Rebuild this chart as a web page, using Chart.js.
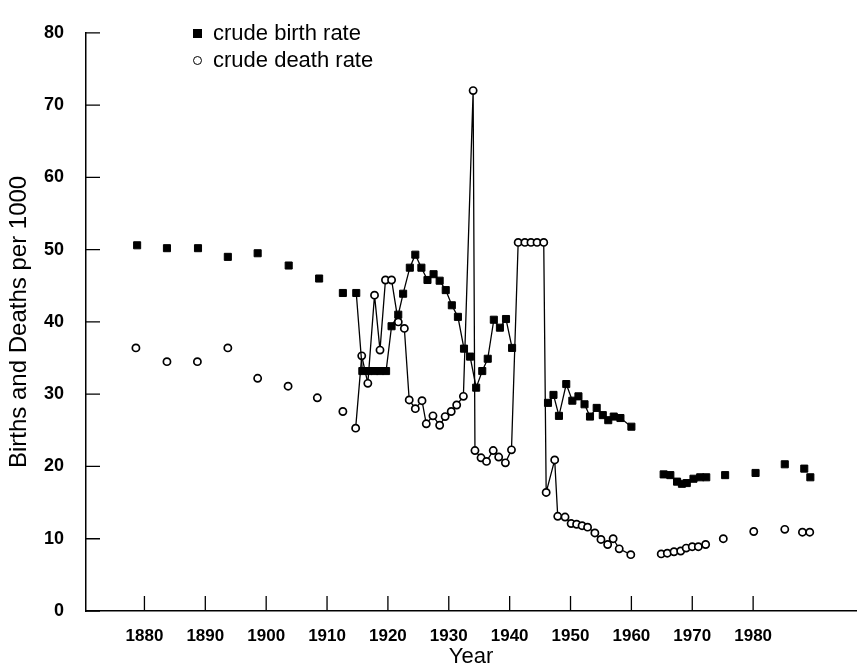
<!DOCTYPE html>
<html lang="en">
<head>
<meta charset="UTF-8">
<title>Crude birth and death rates</title>
<script src="https://cdn.jsdelivr.net/npm/chart.js@4"></script>
<style>
    body {
        margin: 0;
        background: #fff;
        font-family: "Liberation Sans", Arial, sans-serif;
    }
    #wrap {
        position: relative;
        width: 862px;
        height: 670px;
    }
    .key {
        position: absolute;
        left: 193px;
        height: 22px;
        display: flex;
        align-items: center;
        font-size: 22px;
        color: #000;
    }
    .key span.mark {
        display: inline-block;
        box-sizing: border-box;
        width: 9px;
        height: 9px;
        margin-right: 11px;
    }
    .sq { background: #000; }
    .ci { border: 1.7px solid #000; border-radius: 50%; background: #fff; }
</style>
</head>
<body>
<div id="wrap">
    <canvas id="rates"></canvas>
    <div class="key" style="top:22px;"><span class="mark sq"></span>crude birth rate</div>
    <div class="key" style="top:49px;"><span class="mark ci"></span>crude death rate</div>
</div>
<script>
    // axis ticks
    const yearTicks = [1880, 1890, 1900, 1910, 1920, 1930, 1940, 1950, 1960, 1970, 1980];
    const rateTicks = [0, 10, 20, 30, 40, 50, 60, 70, 80];

    // birth rate: early points (not joined)
    const birthEarlyYears = [1878.8, 1883.7, 1888.8, 1893.7, 1898.6, 1903.7, 1908.7, 1912.6];
    const birthEarly = [50.6, 50.2, 50.2, 49.0, 49.5, 47.8, 46.0, 44.0];
    // birth rate: annual, joined (1914-1940)
    const birthAYears = [1914.8, 1915.8, 1916.8, 1917.8, 1918.7, 1919.7, 1920.6, 1921.7, 1922.5, 1923.6,
        1924.5, 1925.5, 1926.5, 1927.5, 1928.5, 1929.5, 1930.5, 1931.5, 1932.5, 1933.5,
        1934.5, 1935.5, 1936.4, 1937.4, 1938.4, 1939.4, 1940.4];
    const birthA = [44.0, 33.2, 33.2, 33.2, 33.2, 33.2, 39.4, 41.0, 43.9, 47.5,
        49.3, 47.5, 45.8, 46.6, 45.7, 44.4, 42.3, 40.7, 36.3, 35.2,
        30.9, 33.2, 34.9, 40.3, 39.2, 40.4, 36.4];
    // birth rate: annual, joined (1946-1960)
    const birthBYears = [1946.3, 1947.2, 1948.1, 1949.3, 1950.3, 1951.3, 1952.3, 1953.2, 1954.3, 1955.3,
        1956.2, 1957.1, 1958.2, 1960.0];
    const birthB = [28.8, 29.9, 27.0, 31.4, 29.1, 29.7, 28.6, 26.9, 28.1, 27.1,
        26.4, 26.9, 26.7, 25.5];
    // birth rate: late points (not joined)
    const birthLateYears = [1965.3, 1966.4, 1967.5, 1968.3, 1969.1, 1970.2, 1971.3, 1972.3, 1975.4, 1980.4,
        1985.2, 1988.4, 1989.4];
    const birthLate = [18.9, 18.8, 17.9, 17.6, 17.7, 18.3, 18.5, 18.5, 18.8, 19.1,
        20.3, 19.7, 18.5];

    // death rate: early points (not joined)
    const deathEarlyYears = [1878.6, 1883.7, 1888.7, 1893.7, 1898.6, 1903.6, 1908.4, 1912.6];
    const deathEarly = [36.4, 34.5, 34.5, 36.4, 32.2, 31.1, 29.5, 27.6];
    // death rate: annual, joined (1914-1960)
    const deathAYears = [1914.7, 1915.7, 1916.7, 1917.8, 1918.7, 1919.6, 1920.6, 1921.7, 1922.7, 1923.5,
        1924.5, 1925.6, 1926.3, 1927.4, 1928.5, 1929.4, 1930.4, 1931.3, 1932.4, 1934.0,
        1934.3, 1935.3, 1936.2, 1937.3, 1938.2, 1939.3, 1940.3, 1941.4, 1942.5, 1943.5,
        1944.5, 1945.6, 1946.0, 1947.4, 1947.9, 1949.1, 1950.1, 1951.0, 1951.9, 1952.8,
        1954.0, 1955.0, 1956.1, 1957.0, 1958.0, 1959.9];
    const deathA = [25.3, 35.3, 31.5, 43.7, 36.1, 45.8, 45.8, 40.0, 39.1, 29.2,
        28.0, 29.1, 25.9, 27.0, 25.7, 26.9, 27.6, 28.5, 29.7, 72.0,
        22.2, 21.2, 20.7, 22.2, 21.3, 20.5, 22.3, 51.0, 51.0, 51.0,
        51.0, 51.0, 16.4, 20.9, 13.1, 13.0, 12.1, 12.0, 11.8, 11.6,
        10.8, 9.9, 9.2, 10.0, 8.6, 7.8];
    // death rate: late points (not joined)
    const deathLateYears = [1964.9, 1965.9, 1967.0, 1968.1, 1969.0, 1970.0, 1971.0, 1972.2, 1975.1, 1980.1,
        1985.2, 1988.1, 1989.3];
    const deathLate = [7.9, 8.0, 8.2, 8.3, 8.7, 8.9, 8.9, 9.2, 10.0, 11.0,
        11.3, 10.9, 10.9];

    const pts = (xs, ys) => xs.map((x, i) => ({ x: x, y: ys[i] }));

    const square = {
        pointStyle: 'rect',
        pointRadius: 5,
        pointBackgroundColor: '#000',
        pointBorderColor: '#000',
        pointBorderWidth: 1,
        borderColor: '#000',
        borderWidth: 1.3
    };
    const circle = {
        pointStyle: 'circle',
        pointRadius: 3.6,
        pointBackgroundColor: '#fff',
        pointBorderColor: '#000',
        pointBorderWidth: 1.7,
        borderColor: '#000',
        borderWidth: 1.3
    };

    // short tick marks pointing into the plot
    const innerTicks = {
        id: 'innerTicks',
        afterDraw(chart) {
            const { ctx, chartArea, scales: { x, y } } = chart;
            ctx.save();
            ctx.strokeStyle = '#000';
            ctx.lineWidth = 1.3;
            ctx.beginPath();
            x.ticks.forEach(t => {
                const px = x.getPixelForValue(t.value);
                ctx.moveTo(px, chartArea.bottom);
                ctx.lineTo(px, chartArea.bottom - 15);
            });
            y.ticks.forEach(t => {
                const py = y.getPixelForValue(t.value);
                ctx.moveTo(chartArea.left, py);
                ctx.lineTo(chartArea.left + 14, py);
            });
            ctx.stroke();
            ctx.restore();
        }
    };

    new Chart(document.getElementById('rates'), {
        type: 'line',
        data: {
            datasets: [
                Object.assign({ label: 'crude birth rate', data: pts(birthEarlyYears, birthEarly), showLine: false }, square),
                Object.assign({ label: 'birth 1914-1940', data: pts(birthAYears, birthA) }, square),
                Object.assign({ label: 'birth 1946-1960', data: pts(birthBYears, birthB) }, square),
                Object.assign({ label: 'birth late', data: pts(birthLateYears, birthLate), showLine: false }, square),
                Object.assign({ label: 'crude death rate', data: pts(deathEarlyYears, deathEarly), showLine: false }, circle),
                Object.assign({ label: 'death 1914-1960', data: pts(deathAYears, deathA) }, circle),
                Object.assign({ label: 'death late', data: pts(deathLateYears, deathLate), showLine: false }, circle)
            ]
        },
        options: {
            responsive: true,
            maintainAspectRatio: false,
            animation: false,
            layout: { padding: { top: 14, right: 0, bottom: 0, left: 0 } },
            plugins: { legend: { display: false }, tooltip: { enabled: false } },
            scales: {
                x: {
                    type: 'linear',
                    min: 1870.4,
                    max: 1996.9,
                    afterBuildTicks: s => { s.ticks = yearTicks.map(v => ({ value: v })); },
                    afterFit: s => { s.height = 59; },
                    grid: { display: false, drawTicks: false },
                    border: { display: true, color: '#000', width: 1.5 },
                    ticks: {
                        color: '#000',
                        font: { family: '"Liberation Sans", Arial, sans-serif', size: 17, weight: 'bold' },
                        padding: 15,
                        maxRotation: 0,
                        autoSkip: false,
                        callback: v => String(v)
                    },
                    title: {
                        display: true,
                        text: 'Year',
                        color: '#000',
                        font: { family: '"Liberation Sans", Arial, sans-serif', size: 22 },
                        padding: { top: 0, bottom: 0 }
                    }
                },
                y: {
                    min: 0,
                    max: 80,
                    afterBuildTicks: s => { s.ticks = rateTicks.map(v => ({ value: v })); },
                    afterFit: s => { s.width = 86; },
                    grid: { display: false, drawTicks: false },
                    border: { display: true, color: '#000', width: 1.5 },
                    ticks: {
                        color: '#000',
                        font: { family: '"Liberation Sans", Arial, sans-serif', size: 18, weight: 'bold' },
                        padding: 22
                    },
                    title: {
                        display: true,
                        text: 'Births and Deaths per 1000',
                        color: '#000',
                        font: { family: '"Liberation Sans", Arial, sans-serif', size: 24 },
                        padding: { top: 5, bottom: 0 }
                    }
                }
            }
        },
        plugins: [innerTicks]
    });
</script>
</body>
</html>
